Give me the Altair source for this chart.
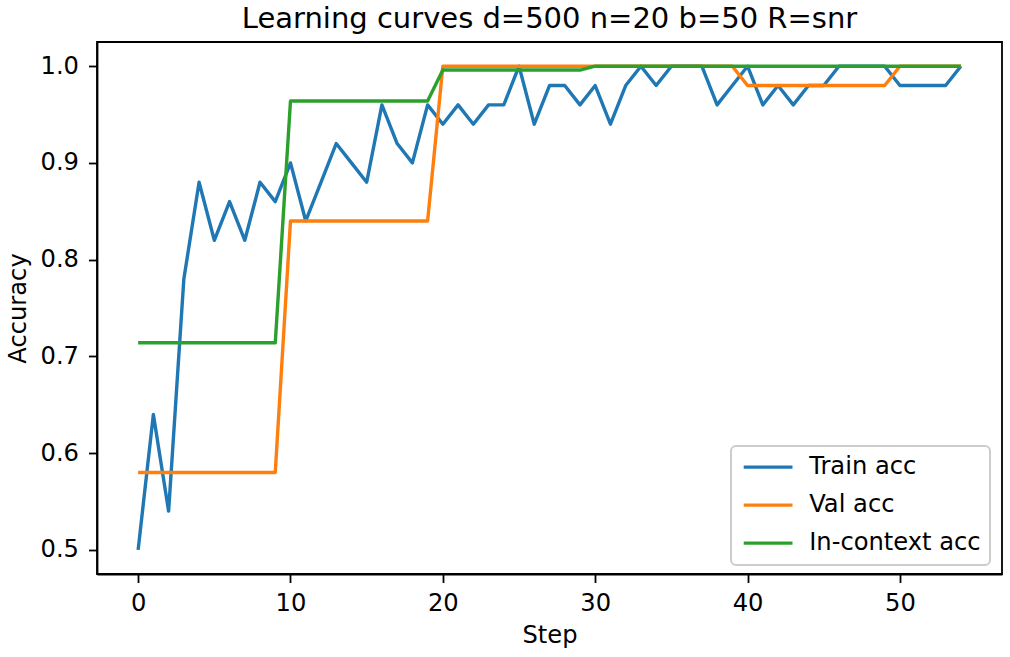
import altair as alt
import pandas as pd

# Training step index
steps = list(range(55))

# Accuracy per step for each tracked metric
train_acc = [
    0.50, 0.64, 0.54, 0.78, 0.88, 0.82, 0.86, 0.82, 0.88, 0.86,
    0.90, 0.84, 0.88, 0.92, 0.90, 0.88, 0.96, 0.92, 0.90, 0.96,
    0.94, 0.96, 0.94, 0.96, 0.96, 1.00, 0.94, 0.98, 0.98, 0.96,
    0.98, 0.94, 0.98, 1.00, 0.98, 1.00, 1.00, 1.00, 0.96, 0.98,
    1.00, 0.96, 0.98, 0.96, 0.98, 0.98, 1.00, 1.00, 1.00, 1.00,
    0.98, 0.98, 0.98, 0.98, 1.00,
]
val_acc = [
    0.58, 0.58, 0.58, 0.58, 0.58, 0.58, 0.58, 0.58, 0.58, 0.58,
    0.84, 0.84, 0.84, 0.84, 0.84, 0.84, 0.84, 0.84, 0.84, 0.84,
    1.00, 1.00, 1.00, 1.00, 1.00, 1.00, 1.00, 1.00, 1.00, 1.00,
    1.00, 1.00, 1.00, 1.00, 1.00, 1.00, 1.00, 1.00, 1.00, 1.00,
    0.98, 0.98, 0.98, 0.98, 0.98, 0.98, 0.98, 0.98, 0.98, 0.98,
    1.00, 1.00, 1.00, 1.00, 1.00,
]
incontext_acc = [
    0.714, 0.714, 0.714, 0.714, 0.714, 0.714, 0.714, 0.714, 0.714, 0.714,
    0.964, 0.964, 0.964, 0.964, 0.964, 0.964, 0.964, 0.964, 0.964, 0.964,
    0.996, 0.996, 0.996, 0.996, 0.996, 0.996, 0.996, 0.996, 0.996, 0.996,
    1.00, 1.00, 1.00, 1.00, 1.00, 1.00, 1.00, 1.00, 1.00, 1.00,
    1.00, 1.00, 1.00, 1.00, 1.00, 1.00, 1.00, 1.00, 1.00, 1.00,
    1.00, 1.00, 1.00, 1.00, 1.00,
]

series_names = ["Train acc", "Val acc", "In-context acc"]
series_colors = ["#1f77b4", "#ff7f0e", "#2ca02c"]
x_ticks = [0, 10, 20, 30, 40, 50]
y_ticks = [0.5, 0.6, 0.7, 0.8, 0.9, 1.0]

frames = []
for name, vals in zip(series_names, [train_acc, val_acc, incontext_acc]):
    frames.append(pd.DataFrame({"Step": steps, "Accuracy": vals, "Series": name}))
df = pd.concat(frames, ignore_index=True)

FONT = "DejaVu Sans"
LABEL_SIZE = 24.2

chart = (
    alt.Chart(df)
    .mark_line(strokeWidth=3.4, strokeJoin="round")
    .encode(
        x=alt.X(
            "Step:Q",
            scale=alt.Scale(domain=[-2.7, 56.7], nice=False, zero=False),
            axis=alt.Axis(values=x_ticks, format="d", title="Step",
                          labelPadding=9, titlePadding=8),
        ),
        y=alt.Y(
            "Accuracy:Q",
            scale=alt.Scale(domain=[0.475, 1.025], nice=False, zero=False),
            axis=alt.Axis(values=y_ticks, format=".1f", title="Accuracy",
                          labelPadding=10, titlePadding=10),
        ),
        color=alt.Color(
            "Series:N",
            sort=series_names,
            scale=alt.Scale(domain=series_names, range=series_colors),
            legend=alt.Legend(
                title=None,
                orient="none",
                legendX=634,
                legendY=404,
                symbolType="M-3.05,0H3.05",
                symbolSize=256,
                symbolStrokeWidth=3.4,
                symbolOffset=16,
                labelOffset=29,
                labelFontSize=LABEL_SIZE,
                labelFont=FONT,
                labelColor="black",
                labelLimit=400,
                rowPadding=13,
                padding=9,
                strokeColor="#cccccc",
                fillColor="rgba(255,255,255,0.8)",
                cornerRadius=5,
            ),
        ),
        order=alt.Order("Step:Q"),
    )
    .properties(
        width=905,
        height=532,
        autosize="none",
        padding={"left": 97, "top": 42, "right": 8, "bottom": 83},
        title=alt.Title(
            "Learning curves d=500 n=20 b=50 R=snr",
            fontSize=29,
            font=FONT,
            fontWeight="normal",
            color="black",
            anchor="middle",
            offset=8,
        ),
    )
    .configure_view(stroke="black", strokeWidth=1.8)
    .configure_axis(
        grid=False,
        domainColor="black",
        domainWidth=1.8,
        tickColor="black",
        tickWidth=1.8,
        tickSize=8.5,
        labelFont=FONT,
        labelFontSize=LABEL_SIZE,
        labelColor="black",
        titleFont=FONT,
        titleFontSize=LABEL_SIZE,
        titleFontWeight="normal",
        titleColor="black",
    )
    .configure_legend(symbolFillColor="transparent", strokeWidth=2)
)

chart.save("out.html", embed_options={"renderer": "svg", "actions": False})
